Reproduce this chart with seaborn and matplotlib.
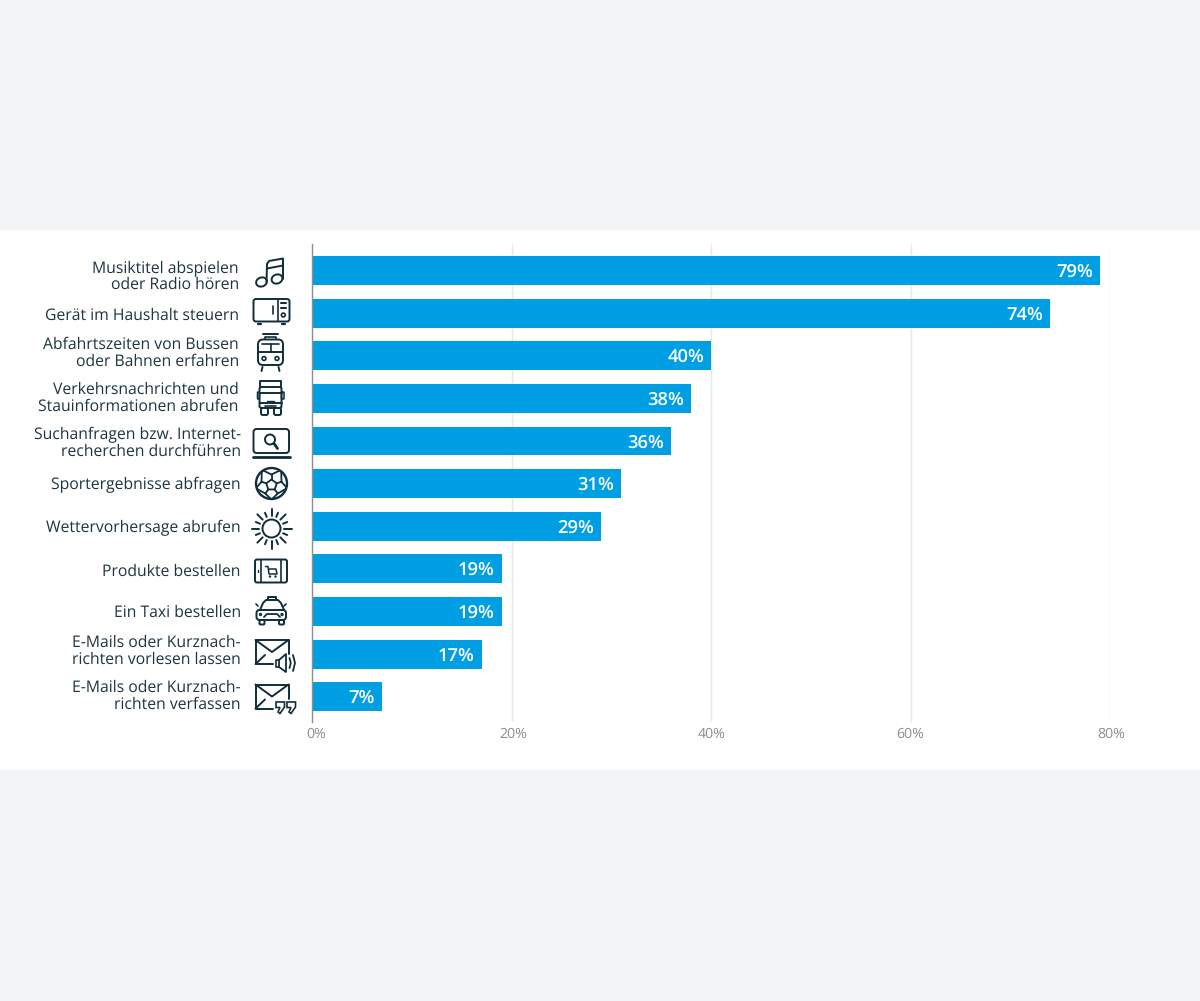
import numpy as np
import pandas as pd
import matplotlib
matplotlib.use("Agg")
import matplotlib.pyplot as plt
from matplotlib.patches import Rectangle, FancyBboxPatch, Circle, Polygon, Ellipse
from matplotlib.transforms import ScaledTranslation
import seaborn as sns

categories = [
    "Musiktitel abspielen\noder Radio hören",
    "Gerät im Haushalt steuern",
    "Abfahrtszeiten von Bussen\noder Bahnen erfahren",
    "Verkehrsnachrichten und\nStauinformationen abrufen",
    "Suchanfragen bzw. Internet-\nrecherchen durchführen",
    "Sportergebnisse abfragen",
    "Wettervorhersage abrufen",
    "Produkte bestellen",
    "Ein Taxi bestellen",
    "E-Mails oder Kurznach-\nrichten vorlesen lassen",
    "E-Mails oder Kurznach-\nrichten verfassen",
]
values = [79, 74, 40, 38, 36, 31, 29, 19, 19, 17, 7]
xticks = [0, 20, 40, 60, 80]
xticklabels = ["0%", "20%", "40%", "60%", "80%"]

W, H = 1200, 1001
BG = "#f2f4f6"
BLUE = "#009fe3"
DARK = "#0f2d3a"
TXT = "#1d3540"

sns.set_theme(style="white")
plt.rcParams["font.family"] = ["Open Sans", "DejaVu Sans"]
plt.rcParams["text.hinting"] = "no_hinting"

fig = plt.figure(figsize=(W / 100, H / 100), dpi=100, facecolor=BG)
fig.patches.append(Rectangle((0, 1 - 770 / H), 1, 540 / H, transform=fig.transFigure,
                             facecolor="white", edgecolor="none", zorder=-10))

ax = fig.add_axes([312 / W, 1 - 722 / H, 798 / W, 478 / H])
ax.patch.set_alpha(0)
df = pd.DataFrame({"cat": categories, "val": values})
sns.barplot(data=df, y="cat", x="val", orient="y", color=BLUE, saturation=1,
            width=0.68, ax=ax, zorder=3, edgecolor="none", linewidth=0)
ax.set_xlim(0, 80)
ax.set_ylim(10.59, -0.62)
ax.set_xlabel("")
ax.set_ylabel("")
ax.set_xticks(xticks)
ax.set_xticklabels(xticklabels, color="#8c8c8c", fontsize=10.2)
ax.tick_params(axis="x", length=0, pad=4)
ax.tick_params(axis="y", length=0, pad=52, labelsize=11.3, labelcolor=TXT)


def shift(label, dx_px, dy_px):
    label.set_transform(label.get_transform() +
                        ScaledTranslation(dx_px / 100, -dy_px / 100, fig.dpi_scale_trans))


for lab, dx in zip(ax.get_xticklabels(), (4, 2, 1, 0, 1.5)):
    shift(lab, dx, 0)
label_dy = (4, 0.5, -5, -2.5, 0, -1, 0, 0.5, -1, -5, -3)
label_dx = (-1, -1, -1, -1, 1, 1, 1, 1, 1, 1, 1)
for lab, dx, dy in zip(ax.get_yticklabels(), label_dx, label_dy):
    lab.set_linespacing(1.05)
    lab.set_multialignment("right")
    shift(lab, dx, dy)
ax.grid(axis="x", color="#e6e8ea", lw=1, zorder=0)
ax.set_axisbelow(True)
for s in ["top", "right", "bottom"]:
    ax.spines[s].set_visible(False)
ax.spines["left"].set_color("#8f8f8f")
ax.spines["left"].set_linewidth(1.0)
ax.spines["left"].set_zorder(6)

for i, v in enumerate(values):
    ax.annotate(f"{v}%", (v, i), xytext=(-5.0, -1.2), textcoords="offset points",
                ha="right", va="center", color="white", fontsize=13.2,
                fontweight="semibold", zorder=5)

# Pixel-space overlay for the pictograms
ov = fig.add_axes([0, 0, 1, 1], zorder=10)
ov.set_xlim(0, W)
ov.set_ylim(H, 0)
ov.axis("off")
LW = 1.4


def L(xs, ys, lw=LW):
    ov.plot(xs, ys, color=DARK, lw=lw, solid_capstyle="round", solid_joinstyle="round")


def RR(x0, y0, x1, y1, r=2.5, lw=LW, fill="none"):
    ov.add_patch(FancyBboxPatch((x0 + r, y0 + r), x1 - x0 - 2 * r, y1 - y0 - 2 * r,
                                boxstyle=f"round,pad={r}", fc=fill, ec=DARK, lw=lw))


def C(x, y, r, lw=LW, fill="none"):
    ov.add_patch(Circle((x, y), r, fc=fill, ec=DARK, lw=lw))


# music
ov.add_patch(Ellipse((261.5, 282), 11, 9, angle=-20, fc="none", ec=DARK, lw=LW))
ov.add_patch(Ellipse((277, 279), 11, 9, angle=-20, fc="none", ec=DARK, lw=LW))
L([266.5, 267, 269, 283, 283], [282, 264, 261, 258.5, 279])
L([267, 283], [268.5, 265.5])

# microwave
RR(253.5, 299, 289.5, 321.5)
L([278, 278], [299.5, 321], lw=1.2)
L([273, 273], [306, 314], lw=1.2)
L([280.5, 286], [303, 303], lw=1.5); L([280.5, 286], [307.5, 307.5], lw=1.5)
C(283.3, 315, 1.9, lw=1.2)
L([258, 261], [324, 324], lw=1.6); L([282, 285], [324, 324], lw=1.6)

# train
RR(258, 339.5, 283, 365, r=5)
L([258, 283], [352, 352])
L([270.5, 270.5], [344, 352], lw=1.2)
L([262, 279], [344, 344], lw=1.2)
C(264, 358.5, 1.9, lw=1.2); C(277, 358.5, 1.9, lw=1.2)
L([263, 278], [333.5, 333.5]); L([265, 265, 276, 276], [339, 336.5, 336.5, 339], lw=1.2)
L([262.5, 261.5], [367, 371]); L([278.5, 279.5], [367, 371])

# truck
L([260, 260, 281, 281], [387, 381, 381, 387])
RR(259.5, 387, 281.5, 408, r=2)
L([259.5, 281.5], [393, 393]); L([259.5, 281.5], [403, 403])
L([265, 276], [405.5, 405.5], lw=1.2); L([267, 274], [401, 401], lw=1)
RR(257.5, 392, 259.5, 399, r=.6, lw=1.1); RR(281.5, 392, 284, 399, r=.6, lw=1.1)
RR(261, 408, 268, 415, r=1.8); RR(274, 408, 281, 415, r=1.8)

# laptop/search
RR(253.5, 429, 289, 453, r=3)
L([253, 289.5], [457, 457], lw=2)
C(270, 439.5, 5); L([274, 277.5], [443.5, 448.5], lw=2)

# football
cx, cy = 271.5, 483.5
C(cx, cy, 15.5, lw=1.7)
angs = np.deg2rad(np.arange(-90, 270, 72))
pent = np.c_[cx + 5.5 * np.cos(angs), cy + 1.5 + 5.5 * np.sin(angs)]
ov.add_patch(Polygon(pent, fc="none", ec=DARK, lw=1.3))
for a, (px, py) in zip(angs, pent):
    mx, my = cx + 10.5 * np.cos(a), cy + 1.5 + 10.5 * np.sin(a)
    L([px, mx], [py, my], lw=1.3)
    for s in (-0.55, 0.55):
        L([mx, cx + 15 * np.cos(a + s)], [my, cy + 15 * np.sin(a + s)], lw=1.3)

# sun
C(271.5, 528.5, 9, lw=1.4)
for k, a in enumerate(np.deg2rad(np.arange(0, 360, 22.5))):
    r1, r2 = (12.5, 20) if k % 2 == 0 else (12.5, 17)
    L([271.5 + r1 * np.cos(a), 271.5 + r2 * np.cos(a)], [528.5 + r1 * np.sin(a), 528.5 + r2 * np.sin(a)])

# tablet + cart
RR(255, 559.5, 287, 582.5, r=2)
L([261, 261], [560, 582], lw=1.2); L([281, 281], [560, 582], lw=1.2)
L([265.5, 268, 269, 277, 276, 269.5], [566.5, 566.5, 574, 574, 569, 569], lw=1.1)
C(270, 576.5, .5, lw=1); C(275.5, 576.5, .5, lw=1)
L([258, 258], [570, 572], lw=1)

# taxi
L([268, 268, 276, 276], [600, 596.5, 596.5, 600])
L([260, 263, 266, 278, 281, 284], [610, 603, 600, 600, 603, 610])
RR(256.5, 610, 286, 620, r=3)
L([264, 267, 277, 280], [617, 614, 614, 617], lw=1.3)
L([256, 258], [604, 606], lw=1.2); L([286, 284], [604, 606], lw=1.2)
C(260.5, 614.5, 1, lw=1); C(282, 614.5, 1, lw=1)
RR(259.5, 620, 264.5, 624.5, r=1.2); RR(279, 620, 284, 624.5, r=1.2)


# envelopes
def envelope(y0):
    L([273, 255.5, 255.5, 288.5, 288.5], [y0 + 24, y0 + 24, y0, y0, y0 + 14])
    L([255.5, 272, 288.5], [y0, y0 + 12, y0])
    L([255.5, 265], [y0 + 24, y0 + 15])


envelope(640)
L([279, 275.5, 275.5, 279], [660, 660, 667, 667], lw=1.2)
L([279, 286, 286, 279, 279], [660, 654, 672, 667, 660], lw=1.3)
L([289.5, 290.8, 289.5], [658, 663, 668], lw=1.3)
L([293, 295, 293], [655, 663, 671], lw=1.3)

envelope(684.5)
for x0 in (276, 287):
    ov.add_patch(Polygon([(x0, 702), (x0 + 8.5, 702), (x0 + 8.5, 707), (x0 + 4, 713.5), (x0 + 2, 712),
                          (x0 + 4, 707.5), (x0, 707.5)], fc="none", ec=DARK, lw=1.2))

fig.savefig("out.png", dpi=100, facecolor=BG)
